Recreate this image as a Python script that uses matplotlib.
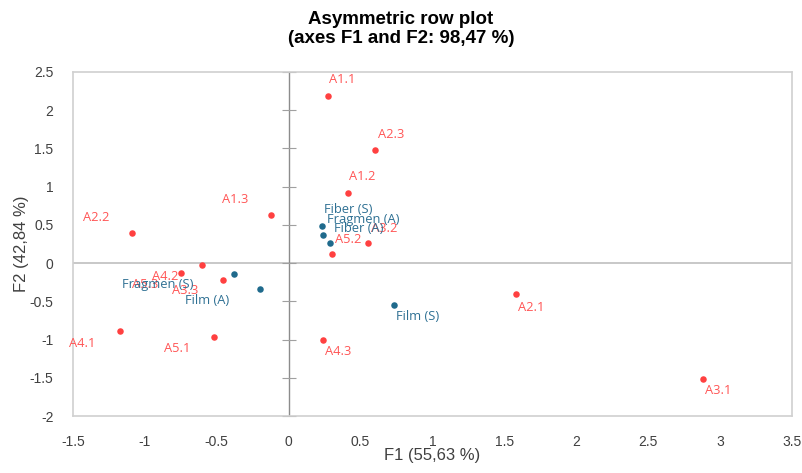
import matplotlib
matplotlib.use("Agg")
import matplotlib.pyplot as plt
import numpy as np

# row points (active)
row_names = ["A1.1", "A1.2", "A1.3", "A2.1", "A2.2", "A2.3", "A3.1", "A3.2", "A3.3",
             "A4.1", "A4.2", "A4.3", "A5.1", "A5.2", "A5.3"]
row_f1 = [0.27, 0.41, -0.12, 1.58, -1.09, 0.60, 2.88, 0.55, -0.46,
          -1.17, -0.60, 0.24, -0.52, 0.30, -0.75]
row_f2 = [2.19, 0.92, 0.63, -0.41, 0.39, 1.48, -1.51, 0.26, -0.22,
          -0.89, -0.03, -1.01, -0.97, 0.12, -0.13]

# column points
col_names = ["Fiber (S)", "Fragmen (A)", "Fiber (A)", "Film (S)", "Film (A)", "Fragmen (S)"]
col_f1 = [0.23, 0.24, 0.29, 0.73, -0.20, -0.38]
col_f2 = [0.49, 0.37, 0.26, -0.55, -0.34, -0.14]

xticks = [-1.5, -1, -0.5, 0, 0.5, 1, 1.5, 2, 2.5, 3, 3.5]
yticks = [-2, -1.5, -1, -0.5, 0, 0.5, 1, 1.5, 2, 2.5]

# label offsets in pixels (dx right, dy down), text centred
row_off = {"A1.1": (15, -16), "A1.2": (15, -16), "A1.3": (-36, -15), "A2.1": (15, 13),
           "A2.2": (-36, -16), "A2.3": (16, -15), "A3.1": (15, 12), "A3.2": (16, -15),
           "A3.3": (-37, 11), "A4.1": (-38, 12), "A4.2": (-37, 11), "A4.3": (15, 11),
           "A5.1": (-37, 11), "A5.2": (16, -14), "A5.3": (-36, 11)}
col_off = {"Fiber (S)": (26, -16), "Fragmen (A)": (40, -15), "Fiber (A)": (28, -15),
           "Film (S)": (24, 11), "Film (A)": (-53, 11), "Fragmen (S)": (-76, 11)}

red = "#FF4040"
red_txt = "#FF5555"
blue = "#1F6A8C"
blue_txt = "#2E7093"

fig = plt.figure(figsize=(8.02, 4.73), dpi=100)
ax = fig.add_axes([73 / 802, 1 - 416 / 473, (792 - 73) / 802, (416 - 72) / 473])

ax.set_xlim(-1.5, 3.5)
ax.set_ylim(-2, 2.5)

ax.axhline(0, color="#BFBFBF", lw=1.2, zorder=1)
ax.axvline(0, color="#8C8C8C", lw=1.0, zorder=1)
ax.plot([0] * len(yticks), yticks, ls="none", marker="_", ms=10, mew=0.8,
        color="#A0A0A0", zorder=1, clip_on=False)

ax.scatter(row_f1, row_f2, s=22, color=red, zorder=3, linewidths=0)
ax.scatter(col_f1, col_f2, s=22, color=blue, zorder=3, linewidths=0)

lab_font = ["Open Sans", "DejaVu Sans"]
for n, x, y in zip(row_names, row_f1, row_f2):
    dx, dy = row_off[n]
    ax.annotate(n, (x, y), xytext=(dx, -dy), textcoords="offset pixels",
                ha="center", va="center", fontsize=9.3, color=red_txt, family=lab_font)
for n, x, y in zip(col_names, col_f1, col_f2):
    dx, dy = col_off[n]
    ax.annotate(n, (x, y), xytext=(dx, -dy), textcoords="offset pixels",
                ha="center", va="center", fontsize=9.3, color=blue_txt, family=lab_font)

ax.set_xticks(xticks)
ax.set_yticks(yticks)
ax.set_xticklabels([f"{t:g}" for t in xticks])
ax.set_yticklabels([f"{t:g}" for t in yticks])
ax.tick_params(length=0, pad=14, labelsize=10, colors="#404040")
for lab in ax.get_xticklabels() + ax.get_yticklabels():
    lab.set_family(["Liberation Sans Narrow", "Liberation Sans", "DejaVu Sans"])
for sp in ax.spines.values():
    sp.set_color("#D0D0D0")
    sp.set_linewidth(1.2)

ax.set_xlabel("F1 (55,63 %)", fontsize=12, color="#404040",
              family=["Liberation Sans Narrow", "Liberation Sans"], va="center")
ax.xaxis.set_label_coords(0.5, (416 - 455) / 344)
ax.set_ylabel("F2 (42,84 %)", fontsize=12, color="#404040",
              family=["Liberation Sans", "DejaVu Sans"], va="center")
ax.yaxis.set_label_coords((22 - 73) / 719, 0.5)

fig.text(0.5, 1 - 29 / 473, "Asymmetric row plot\n(axes F1 and F2: 98,47 %)",
         ha="center", va="center", fontsize=13.5, fontweight="bold",
         family=["Liberation Sans", "DejaVu Sans"], linespacing=1.1)

fig.savefig("out.png", dpi=100)
